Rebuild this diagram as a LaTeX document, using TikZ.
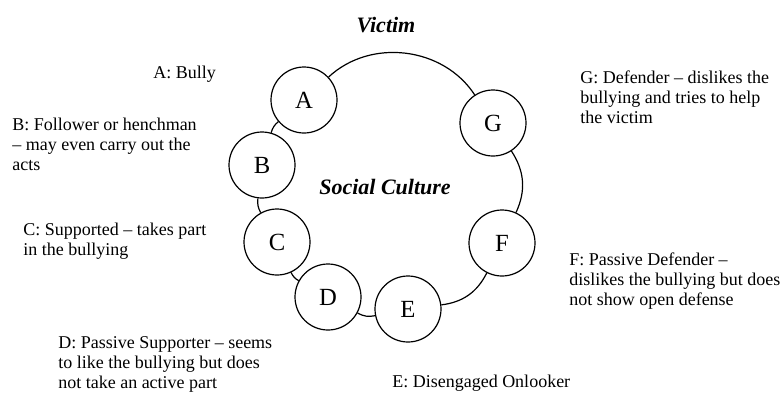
\documentclass[tikz,border=0pt]{standalone}
\usepackage{fontspec}
\setmainfont{Liberation Serif}
\begin{document}
\begin{tikzpicture}[x=0.75pt,y=-0.75pt,
  role/.style={circle,draw,line width=0.9pt,minimum size=49.5pt,inner sep=0pt,font=\fontsize{18.5}{20}\selectfont},
  desc/.style={anchor=base west,align=left,inner sep=0pt,font=\fontsize{13.5}{15}\selectfont},
  head/.style={anchor=base,inner sep=0pt,font=\fontsize{16.5}{18}\selectfont\bfseries\itshape},
  ring/.style={line width=0.9pt}]
\useasboundingbox (0,0) rectangle (782,394);
% role circles
\node[role] (A) at (304,100) {A};
\node[role] (B) at (262,165) {B};
\node[role] (C) at (277,242) {C};
\node[role] (D) at (328,297) {D};
\node[role] (E) at (408,309) {E};
\node[role] (F) at (502,243) {F};
\node[role] (G) at (493,123) {G};
% ring connectors
\draw[ring] (A) to[bend left=50] (G);
\draw[ring] (G) to[bend left=29] (F);
\draw[ring] (F) to[bend left=28] (E);
\draw[ring] (E) to[bend left=20] (D);
\draw[ring] (D) to[bend left=18] (C);
\draw[ring] (C) to[bend left=18] (B);
\draw[ring] (B) to[bend left=17] (A);
% headings
\node[head] (victim) at (386,32) {Victim};
\node[head] (culture) at (385,194) {Social Culture};
% descriptions (anchor = baseline of the last line)
\node[desc] (tA) at (153,78) {A: Bully};
\node[desc] (tB) at (12,170) {B: Follower or henchman\\– may even carry out the\\acts};
\node[desc] (tC) at (23,255) {C: Supported – takes part\\in the bullying};
\node[desc] (tD) at (58,388) {D: Passive Supporter – seems\\to like the bullying but does\\not take an active part};
\node[desc] (tE) at (392,387) {E: Disengaged Onlooker};
\node[desc] (tF) at (569,305) {F: Passive Defender –\\dislikes the bullying but does\\not show open defense};
\node[desc] (tG) at (580,123) {G: Defender – dislikes the\\bullying and tries to help\\the victim};
\end{tikzpicture}
\end{document}
